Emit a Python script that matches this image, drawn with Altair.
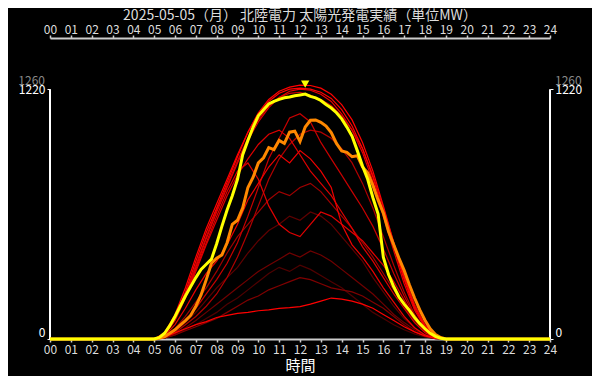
import altair as alt
import pandas as pd

TITLE = "2025-05-05（月） 北陸電力 太陽光発電実績（単位MW）"
FONT = "Noto Sans CJK JP"

# half-hour grid 05:00 .. 19:00 for past days (red lines)
red_hours = [5 + 0.5 * i for i in range(29)]
red_A = [0,25,110,230,380,520,640,765,890,1010,1105,1170,1210,1230,1240,1238,1225,1195,1145,1070,960,820,650,470,300,160,65,15,0]
red_B = [0,30,120,250,400,540,660,780,900,1010,1100,1160,1200,1220,1225,1220,1205,1175,1120,1040,930,790,620,450,290,150,60,12,0]
red_C = [0,20,95,210,350,490,620,740,860,970,1060,1130,1180,1210,1220,1215,1195,1160,1100,1020,910,770,600,430,270,140,55,10,0]
red_D = [0,25,100,220,360,500,630,750,870,980,1070,1140,1180,1200,1205,1190,1170,1140,1090,1020,930,800,640,470,310,170,70,15,0]
red_F = [0,10,30,50,70,85,105,115,125,130,138,142,150,153,158,170,185,200,195,185,170,150,120,90,60,35,15,3,0]
red_H = [0,20,90,200,330,460,580,700,800,880,950,1000,1020,980,900,820,760,700,620,540,450,380,300,220,150,80,30,5,0]
red_I = [0,5,30,70,110,160,220,300,400,520,650,780,880,950,1000,1020,1010,980,930,860,760,640,500,360,230,120,45,8,0]
red_J = [0,10,50,110,180,250,330,420,500,560,620,680,720,700,740,760,720,660,600,540,470,400,320,240,160,90,35,5,0]
red_K = [0,5,25,55,90,130,170,210,250,290,330,360,390,420,400,430,410,380,340,300,260,220,170,120,80,45,20,3,0]
red_L = [0,15,70,150,240,320,380,460,560,680,760,840,900,860,920,880,820,740,560,460,400,330,250,180,110,55,20,3,0]
red_M = [0,5,20,40,60,80,100,130,160,190,210,240,260,280,300,290,270,250,240,230,210,180,150,110,70,35,12,2,0]
red_N = [0,10,40,90,150,220,290,370,470,600,740,880,980,1080,1100,1060,960,880,800,720,640,550,440,320,210,110,40,6,0]
red_O = [0,8,35,80,130,190,250,300,350,420,480,530,560,600,580,620,600,560,500,440,380,300,230,160,100,55,20,4,0]
red_P = [0,20,100,210,340,470,600,720,820,860,780,650,560,520,500,560,620,600,560,520,480,420,360,280,190,100,40,8,0]
red_Q = [0,5,20,45,70,100,130,170,200,240,280,320,350,330,360,340,310,280,250,210,170,130,100,70,45,25,10,2,0]

# drawing order: darkest first
red_series = [
    ("r01", "#500000", red_Q),
    ("r02", "#600000", red_O),
    ("r03", "#700000", red_K),
    ("r04", "#800000", red_M),
    ("r05", "#a00000", red_J),
    ("r06", "#b00000", red_I),
    ("r07", "#c80000", red_N),
    ("r08", "#cc0000", red_D),
    ("r09", "#dd0000", red_H),
    ("r10", "#e00000", red_P),
    ("r11", "#ee0000", red_L),
    ("r12", "#e60000", red_C),
    ("r13", "#ff0000", red_F),
    ("r14", "#ff0000", red_B),
    ("r15", "#ff0000", red_A),
]

# quarter-hour grid 05:00 .. 19:00
q_hours = [5 + 0.25 * i for i in range(57)]
orange_vals = [0,3,12,28, 45,68,90,115, 160,215,290,370, 395,410,470,560,
               580,640,740,790, 860,885,935,925, 970,955,1010,1015, 965,1035,1068,1070,
               1058,1040,1008,955, 918,912,890,895, 840,812,750,678, 615,525,460,395,
               335,265,200,142, 92,50,22,7, 0]
yellow_vals = [0,8,28,65, 110,160,210,255, 300,340,365,390, 465,550,630,700,
               780,900,970,1035, 1090,1120,1148,1160, 1170,1178,1182,1188, 1192,1196,1185,1178,
               1165,1145,1128,1105, 1075,1035,990,920, 845,780,690,610, 400,315,255,205,
               170,140,105,75, 50,28,13,4, 0]

x_ticks = list(range(25))
y_ticks = [0, 1220]
y_max = 1260

rows = []
for name, col, vals in red_series:
    rows.append({"series": name, "color": col, "hour": 0, "mw": 0})
    for h, v in zip(red_hours, vals):
        rows.append({"series": name, "color": col, "hour": h, "mw": v})
    rows.append({"series": name, "color": col, "hour": 24, "mw": 0})
red_df = pd.DataFrame(rows)

orange_df = pd.DataFrame({"hour": [0] + q_hours + [24], "mw": [0] + orange_vals + [0]})
yellow_df = pd.DataFrame({"hour": [0] + q_hours + [24], "mw": [0] + yellow_vals + [0]})
imax = max(range(len(yellow_vals)), key=lambda i: yellow_vals[i])
peak_df = pd.DataFrame({"hour": [q_hours[imax]], "mw": [yellow_vals[imax]]})
axisline_df = pd.DataFrame({"hour": [0, 24], "y0": [0, 0], "y1": [y_ticks[-1]] * 2})
maxlab_df = pd.DataFrame({"hour": [0], "mw": [y_max], "label": [str(y_max)]})
maxlab_r_df = pd.DataFrame({"hour": [24], "mw": [y_max], "label": [str(y_max)]})

xs = alt.Scale(domain=[0, 24], nice=False, zero=False)
ys = alt.Scale(domain=[0, y_max], nice=False)
lab_expr = "datum.value < 10 ? '0' + datum.value : '' + datum.value"

x_common = dict(values=x_ticks, labelExpr=lab_expr, labelFlush=False, labelColor="#dddddd",
                labelFontSize=12, labelFont=FONT, domainColor="#cccccc", domainWidth=2,
                tickColor="#cccccc", tickSize=3, tickWidth=1.5, grid=False)
x_bottom = alt.Axis(orient="bottom", title="時間", titleColor="#ffffff", titleFont=FONT,
                    titleFontSize=15, titleFontWeight="normal", titlePadding=3,
                    labelPadding=2, **x_common)
x_top = alt.Axis(orient="top", offset=43, title=None, labelPadding=-1, **x_common)
y_common = dict(values=y_ticks, format="d", domain=False, grid=False, labelColor="#ffffff",
                labelFontSize=12, labelFont=FONT, tickColor="#ffffff", tickSize=3,
                labelPadding=2, labelFlush=True, title=None)
y_left = alt.Axis(orient="left", **y_common)
y_right = alt.Axis(orient="right", **y_common)

axis_lines = alt.Chart(axisline_df).mark_rule(color="#ffffff", strokeWidth=2).encode(
    x=alt.X("hour:Q", scale=xs, axis=None),
    y=alt.Y("y0:Q", scale=ys, axis=None),
    y2="y1:Q",
)

reds = alt.Chart(red_df).mark_line(strokeWidth=1.2).encode(
    x=alt.X("hour:Q", scale=xs, axis=x_bottom),
    y=alt.Y("mw:Q", scale=ys, axis=y_left),
    color=alt.Color("color:N", scale=None),
    detail="series:N",
)

orange = alt.Chart(orange_df).mark_line(color="#ff8800", strokeWidth=3).encode(
    x=alt.X("hour:Q", scale=xs, axis=x_top),
    y=alt.Y("mw:Q", scale=ys, axis=y_right),
)

yellow = alt.Chart(yellow_df).mark_line(color="#ffff00", strokeWidth=3).encode(
    x=alt.X("hour:Q", scale=xs, axis=None),
    y=alt.Y("mw:Q", scale=ys, axis=None),
)

peak = alt.Chart(peak_df).mark_point(shape="triangle-down", filled=True, color="#ffff00",
                                     size=70, opacity=1, yOffset=-10).encode(
    x=alt.X("hour:Q", scale=xs, axis=None),
    y=alt.Y("mw:Q", scale=ys, axis=None),
)

maxlab = alt.Chart(maxlab_df).mark_text(align="right", baseline="middle", dx=-5, color="#888888",
                                        fontSize=12, font=FONT).encode(
    x=alt.X("hour:Q", scale=xs, axis=None),
    y=alt.Y("mw:Q", scale=ys, axis=None),
    text="label:N",
)
maxlab_r = alt.Chart(maxlab_r_df).mark_text(align="left", baseline="middle", dx=5, color="#888888",
                                            fontSize=12, font=FONT).encode(
    x=alt.X("hour:Q", scale=xs, axis=None),
    y=alt.Y("mw:Q", scale=ys, axis=None),
    text="label:N",
)

chart = alt.layer(axis_lines, reds, orange, yellow, peak, maxlab, maxlab_r).resolve_axis(
    x="independent", y="independent"
).properties(
    width=500,
    height=258,
    title=alt.TitleParams(text=TITLE, color="#dddddd", fontSize=14, font=FONT,
                          fontWeight="normal", offset=0),
    padding={"left": 42, "top": 73, "right": 42, "bottom": 37},
    autosize=alt.AutoSizeParams(type="none"),
    background="black",
).configure_view(stroke=None)

chart.save("out.html", embed_options={"renderer": "svg", "actions": False})
